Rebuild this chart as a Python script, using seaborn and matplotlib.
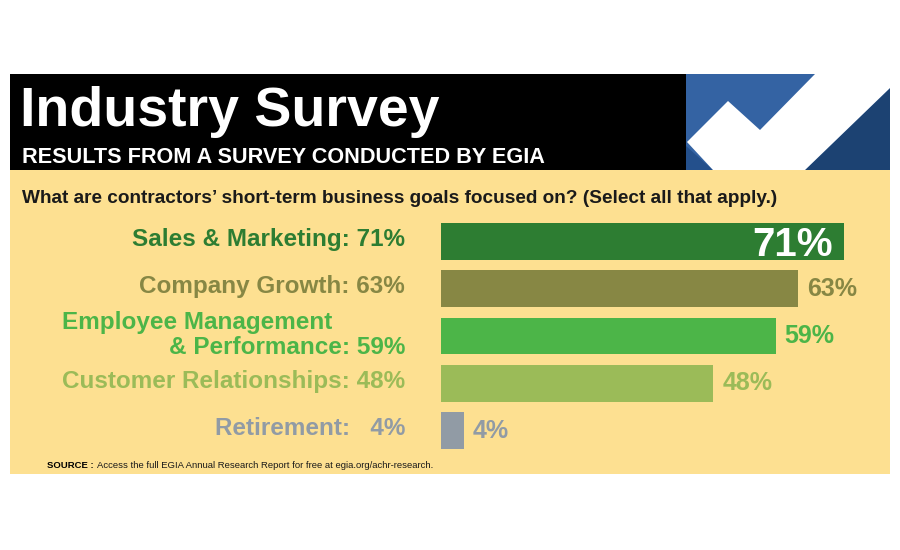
import matplotlib
matplotlib.use("Agg")
import matplotlib.pyplot as plt
from matplotlib.patches import Rectangle, Polygon
import seaborn as sns
import pandas as pd

# ---- data ----
categories = ["Sales & Marketing", "Company Growth", "Employee Management & Performance",
              "Customer Relationships", "Retirement"]
values = [71, 63, 59, 48, 4]
left_labels = ["Sales & Marketing: 71%", "Company Growth: 63%",
               "Employee Management\n& Performance: 59%",
               "Customer Relationships: 48%", "Retirement:   4%"]
value_labels = ["71%", "63%", "59%", "48%", "4%"]
colors = ["#2D7D32", "#878744", "#4CB548", "#9BBB58", "#919BA5"]

title = "Industry Survey"
subtitle = "RESULTS FROM A SURVEY CONDUCTED BY EGIA"
question = "What are contractors\u2019 short-term business goals focused on? (Select all that apply.)"
source_bold = "SOURCE :"
source_text = "Access the full EGIA Annual Research Report for free at egia.org/achr-research."

sns.set_style("white")
plt.rcParams["font.family"] = ["Liberation Sans", "DejaVu Sans"]

YELLOW = "#FDE091"
BLUE = "#3463A3"
NAVY = "#1C4272"

fig = plt.figure(figsize=(9, 5.5), dpi=100)
fig.patch.set_facecolor("white")

# background / decoration layer in pixel coordinates
bg = fig.add_axes([0, 0, 1, 1], zorder=0)
bg.set_xlim(0, 900)
bg.set_ylim(550, 0)
bg.axis("off")
bg.add_patch(Rectangle((10, 170), 880, 304, facecolor=YELLOW, edgecolor="none"))
bg.add_patch(Rectangle((10, 74), 676, 96, facecolor="black", edgecolor="none"))
bg.add_patch(Rectangle((686, 74), 204, 96, facecolor=BLUE, edgecolor="none"))
bg.add_patch(Polygon([(805, 170), (890, 88), (890, 170)], closed=True,
                     facecolor=NAVY, edgecolor="none"))
bg.add_patch(Polygon([(686, 146), (713, 170), (686, 170)], closed=True,
                     facecolor="#24508C", edgecolor="none"))
bg.add_patch(Polygon([(687, 142), (728, 101), (760, 130), (815, 74), (890, 74),
                      (890, 88), (805, 170), (713, 170)], closed=True,
                     facecolor="white", edgecolor="none"))

bg.text(20, 126, title, color="white", fontsize=40, fontweight="bold",
        ha="left", va="baseline")
bg.text(22, 163, subtitle, color="white", fontsize=15.6, fontweight="bold",
        ha="left", va="baseline")
bg.text(22, 203, question, color="#1a1a1a", fontsize=13.7, fontweight="bold",
        ha="left", va="baseline")
t = bg.text(47, 468, source_bold, color="black", fontsize=6.8, fontweight="bold",
            ha="left", va="baseline")
bg.annotate(source_text, xy=(1, 0), xycoords=t, xytext=(3, 0),
            textcoords="offset pixels", fontsize=6.8, color="#1a1a1a",
            ha="left", va="bottom")

# ---- bar chart ----
step = 47.25
top = 241.5 - step / 2
height_px = step * 5
ax = fig.add_axes([441 / 900, 1 - (top + height_px) / 550, 567 / 900, height_px / 550],
                  zorder=1)
df = pd.DataFrame({"category": categories, "value": values})
sns.barplot(data=df, x="value", y="category", hue="category", palette=colors,
            legend=False, width=0.78, saturation=1, ax=ax, orient="h",
            linewidth=0, edgecolor="none")
ax.set_xlim(0, 100)
ax.set_ylim(4.5, -0.5)
ax.patch.set_alpha(0)
ax.axis("off")

LBL = 17.5
for i, (lab, vlab, v, c) in enumerate(zip(left_labels, value_labels, values, colors)):
    if "\n" in lab:
        l1, l2 = lab.split("\n")
        ax.annotate(l1, xy=(0, i), xytext=(-379, 14), textcoords="offset pixels",
                    ha="left", va="center", fontsize=LBL, fontweight="bold",
                    color=c, annotation_clip=False)
        ax.annotate(l2, xy=(0, i), xytext=(-36, -11), textcoords="offset pixels",
                    ha="right", va="center", fontsize=LBL, fontweight="bold",
                    color=c, annotation_clip=False)
    else:
        ax.annotate(lab, xy=(0, i), xytext=(-36, 2), textcoords="offset pixels",
                    ha="right", va="center", fontsize=LBL, fontweight="bold",
                    color=c, annotation_clip=False)
    if i == 0:
        ax.annotate(vlab, xy=(v, i), xytext=(-11, -14), textcoords="offset pixels",
                    ha="right", va="baseline", fontsize=29, fontweight="bold",
                    color="white", annotation_clip=False)
    else:
        ax.annotate(vlab, xy=(v, i), xytext=(9, 0), textcoords="offset pixels",
                    ha="left", va="center", fontsize=18, fontweight="bold",
                    color=c, annotation_clip=False)

fig.savefig("out.png", dpi=100, facecolor="white")
